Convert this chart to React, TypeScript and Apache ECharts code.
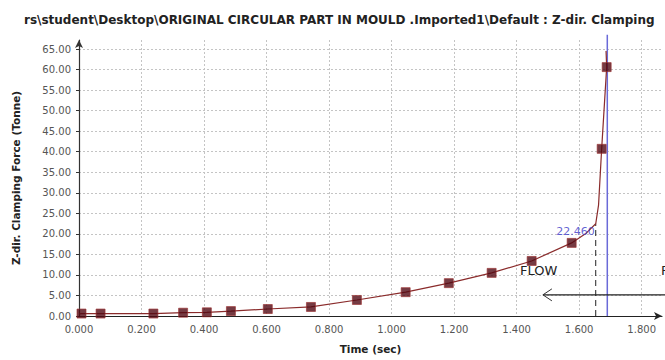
import { useEffect, useRef } from "react";
import * as echarts from "echarts";

// Clamping force history of the moulding analysis
const chartTitle =
  "rs\\student\\Desktop\\ORIGINAL CIRCULAR PART IN MOULD .Imported1\\Default : Z-dir. Clamping";
const xAxisName = "Time (sec)";
const yAxisName = "Z-dir. Clamping Force (Tonne)";

// Sampled result points (square markers)
const sampleTimes = [0.008, 0.069, 0.238, 0.333, 0.409, 0.486, 0.604, 0.742, 0.889, 1.045, 1.183, 1.32, 1.448, 1.576, 1.672, 1.688];
const sampleForce = [0.6, 0.6, 0.6, 0.8, 0.9, 1.2, 1.7, 2.2, 3.9, 5.8, 8.0, 10.5, 13.4, 17.8, 40.7, 60.6];

// Continuous force curve
const curveTimes = [0.0, 0.008, 0.069, 0.238, 0.333, 0.409, 0.486, 0.604, 0.742, 0.889, 1.045, 1.183, 1.32, 1.448, 1.576, 1.62, 1.653, 1.662, 1.672, 1.688, 1.686];
const curveForce = [0.5, 0.6, 0.6, 0.6, 0.8, 0.9, 1.2, 1.7, 2.2, 3.9, 5.8, 8.0, 10.5, 13.4, 17.8, 20.0, 22.46, 27.0, 40.7, 60.6, 64.5];

// Velocity/pressure switch-over marker
const switchTime = 1.653;
const switchForce = 22.46;
// End of fill
const fillEndTime = 1.69;
const fillEndTop = 68.5;

// FLOW / PACK phase annotation
const flowArrowStart = 1.484;
const flowArrowEnd = 1.9;
const flowArrowForce = 5.15;
const flowLabelTime = 1.411;
const flowLabelForce = 11.0;
const packLabelTime = 1.862;

const xMax = 1.865;
const yMax = 67.2;

export default function App() {
  const ref = useRef<HTMLDivElement>(null);

  useEffect(() => {
    if (!ref.current) return;
    const chart = echarts.init(ref.current, undefined, { renderer: "svg" });
    const tickFont = { fontFamily: "DejaVu Sans", fontSize: 10, color: "#555" };

    chart.setOption({
      animation: false,
      backgroundColor: "#ffffff",
      title: {
        text: chartTitle,
        left: 19,
        top: 9,
        textStyle: { fontFamily: "DejaVu Sans", fontWeight: "bold", fontSize: 12, color: "#222" },
      },
      grid: { left: 79, right: 3, top: 40, bottom: 44 },
      xAxis: {
        type: "value",
        min: 0,
        max: xMax,
        interval: 0.2,
        name: xAxisName,
        nameLocation: "middle",
        nameGap: 27,
        nameTextStyle: { fontFamily: "DejaVu Sans", fontWeight: "bold", fontSize: 10.5, color: "#222" },
        axisLine: { show: true, lineStyle: { color: "#222", width: 1.2 }, symbol: ["none", "arrow"], symbolSize: [6, 8] },
        axisTick: { show: false },
        axisLabel: {
          ...tickFont,
          margin: 8,
          showMaxLabel: false,
          formatter: (v: number) => (Math.abs(v / 0.2 - Math.round(v / 0.2)) < 1e-6 ? v.toFixed(3) : ""),
        },
        splitLine: { show: true, showMaxLine: false, lineStyle: { color: "#c4c4c4", type: [2, 2], width: 1 } },
      },
      yAxis: {
        type: "value",
        min: 0,
        max: yMax,
        interval: 5,
        name: yAxisName,
        nameLocation: "middle",
        nameGap: 58,
        nameTextStyle: { fontFamily: "DejaVu Sans", fontWeight: "bold", fontSize: 10.5, color: "#222" },
        axisLine: { show: true, lineStyle: { color: "#333", width: 1.2 }, symbol: ["none", "arrow"], symbolSize: [6, 8] },
        axisTick: { show: true, length: 3, lineStyle: { color: "#333" } },
        axisLabel: {
          ...tickFont,
          margin: 8,
          showMaxLabel: false,
          formatter: (v: number) => (v % 5 === 0 ? v.toFixed(2) : ""),
        },
        splitLine: { show: true, showMaxLine: false, lineStyle: { color: "#c4c4c4", type: [2, 2], width: 1 } },
      },
      series: [
        {
          type: "line",
          data: [
            [switchTime, 0],
            [switchTime, switchForce],
          ],
          symbol: "none",
          lineStyle: { color: "#222", width: 1, type: [6, 4] },
          z: 2,
        },
        {
          type: "line",
          data: [
            [fillEndTime, 0],
            [fillEndTime, fillEndTop],
          ],
          clip: false,
          symbol: "none",
          lineStyle: { color: "#6a6ad8", width: 1.5 },
          z: 3,
        },
        {
          type: "line",
          data: curveTimes.map((t, i) => [t, curveForce[i]]),
          symbol: "none",
          clip: false,
          lineStyle: { color: "#8a2b2b", width: 1.2 },
          z: 4,
        },
        {
          type: "scatter",
          data: sampleTimes.map((t, i) => [t, sampleForce[i]]),
          symbol: "rect",
          symbolSize: 9,
          clip: false,
          itemStyle: { color: "#520a14", borderColor: "#9a3030", borderWidth: 0.8 },
          z: 5,
        },
        {
          type: "scatter",
          data: [[switchTime, switchForce]],
          symbolSize: 0,
          label: {
            show: true,
            position: "left",
            offset: [4, 8],
            formatter: () => switchForce.toFixed(3),
            fontFamily: "DejaVu Sans",
            fontSize: 11,
            color: "#3a3ac8",
          },
          z: 6,
        },
      ],
    });

    const px = (t: number, v: number) => chart.convertToPixel({ gridIndex: 0 }, [t, v]) as number[];
    const a0 = px(flowArrowStart, flowArrowForce);
    const a1 = px(flowArrowEnd, flowArrowForce);
    const fl = px(flowLabelTime, flowLabelForce);
    const pk = px(packLabelTime, flowLabelForce);
    chart.setOption({
      graphic: [
        {
          type: "line",
          shape: { x1: a0[0], y1: a0[1], x2: a1[0], y2: a1[1] },
          style: { stroke: "#222", lineWidth: 1.2 },
          z: 10,
        },
        {
          type: "polyline",
          shape: { points: [[a0[0] + 9, a0[1] - 6], [a0[0], a0[1]], [a0[0] + 9, a0[1] + 6]] },
          style: { stroke: "#333", lineWidth: 1, fill: "none" },
          z: 10,
        },
        {
          type: "text",
          x: fl[0],
          y: fl[1],
          style: { text: "FLOW", fontFamily: "DejaVu Sans", fontSize: 13, fill: "#222", textVerticalAlign: "middle" },
          z: 10,
        },
        {
          type: "text",
          x: pk[0],
          y: pk[1],
          style: { text: "PACK", fontFamily: "DejaVu Sans", fontSize: 13, fill: "#222", textVerticalAlign: "middle" },
          z: 10,
        },
      ],
    });

    return () => chart.dispose();
  }, []);

  return (
    <div
      ref={ref}
      style={{ position: "fixed", left: 0, top: 0, width: 665, height: 360, background: "#fff" }}
    />
  );
}
